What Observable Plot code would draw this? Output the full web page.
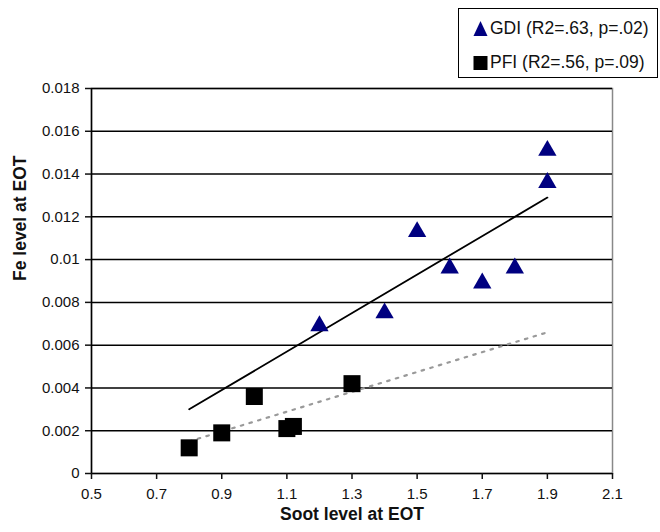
<!DOCTYPE html>
<html><head><meta charset="utf-8">
<script src="https://cdn.jsdelivr.net/npm/d3@7"></script>
<script src="https://cdn.jsdelivr.net/npm/@observablehq/plot@0.6"></script>
<style>
body{margin:0;background:#fff;font-family:"Liberation Sans",Arial,sans-serif;}
#wrap{position:relative;width:660px;height:532px;}
#legend{position:absolute;left:458px;top:8px;width:200px;height:70px;border:1.5px solid #000;box-sizing:border-box;background:#fff;font-size:17.5px;color:#111;}
.item{position:absolute;left:14px;display:flex;align-items:center;gap:2px;white-space:nowrap;}
</style>
</head><body>
<div id="wrap"><div id="chart"></div>
<div id="legend">
<div class="item" style="top:9px"><svg width="15" height="17"><path d="M7.5,1 L14.5,16 L0.5,16 Z" fill="#000080"/></svg><span>GDI (R2=.63, p=.02)</span></div>
<div class="item" style="top:43px"><svg width="15" height="16"><rect x="0.5" y="1" width="14" height="14" fill="#000"/></svg><span>PFI (R2=.56, p=.09)</span></div>
</div></div>
<script>
const gdiX = [1.2, 1.4, 1.5, 1.6, 1.7, 1.8, 1.9, 1.9];
const gdiY = [0.0069, 0.0075, 0.0113, 0.0096, 0.0089, 0.0096, 0.0136, 0.0151];
const pfiX = [0.8, 0.9, 1.0, 1.1, 1.12, 1.3];
const pfiY = [0.0012, 0.0019, 0.0036, 0.0021, 0.0022, 0.0042];
const gdiTrendX = [0.8, 1.9];
const gdiTrendY = [0.0030, 0.0129];
const pfiTrendX = [0.8, 1.9];
const pfiTrendY = [0.0015, 0.0066];
const xTicks = [0.5, 0.7, 0.9, 1.1, 1.3, 1.5, 1.7, 1.9, 2.1];
const yTicks = [0, 0.002, 0.004, 0.006, 0.008, 0.01, 0.012, 0.014, 0.016, 0.018];

const gdi = gdiX.map((x, i) => ({x, y: gdiY[i]}));
const pfi = pfiX.map((x, i) => ({x, y: pfiY[i]}));
const gT = gdiTrendX.map((x, i) => ({x, y: gdiTrendY[i]}));
const pT = pfiTrendX.map((x, i) => ({x, y: pfiTrendY[i]}));

const chart = Plot.plot({
  width: 660, height: 532,
  marginLeft: 91, marginRight: 48, marginTop: 88, marginBottom: 59,
  style: {fontFamily: "Liberation Sans, Arial, sans-serif", fontSize: "15px", color: "#111", background: "#fff"},
  x: {domain: [0.5, 2.1], label: null},
  y: {domain: [0, 0.018], label: null},
  marks: [
    Plot.frame({stroke: "#888", strokeWidth: 1.5}),
    Plot.gridY(yTicks.slice(1), {stroke: "#000", strokeOpacity: 1, strokeWidth: 1.5}),
    Plot.ruleX([0.5], {stroke: "#000", strokeWidth: 1.5}),
    Plot.ruleY([0], {stroke: "#000", strokeWidth: 1.5}),
    Plot.line(gT, {x: "x", y: "y", stroke: "#000", strokeWidth: 1.8}),
    Plot.line(pT, {x: "x", y: "y", stroke: "#999", strokeWidth: 2.2, strokeDasharray: "2.5,6.5"}),
    Plot.dot(gdi, {x: "x", y: "y", symbol: "triangle", r: 6.8, fill: "#000080", stroke: "none"}),
    Plot.dot(pfi, {x: "x", y: "y", symbol: "square", r: 9.6, fill: "#000", stroke: "none"}),
    Plot.axisX({ticks: xTicks, tickFormat: d => String(d), tickSize: 6, tickPadding: 9, label: null, fontSize: 15, strokeWidth: 1.5}),
    Plot.axisY({ticks: yTicks, tickFormat: d => String(+d.toFixed(3)), tickSize: 6, tickPadding: 6, label: null, fontSize: 15, strokeWidth: 1.5}),
    Plot.text(["Soot level at EOT"], {frameAnchor: "bottom", dy: 46, fontWeight: "bold", fontSize: 17.5}),
    Plot.text(["Fe level at EOT"], {frameAnchor: "left", dx: -71, rotate: -90, fontWeight: "bold", fontSize: 17.5})
  ]
});
document.getElementById("chart").appendChild(chart);
</script>
</body></html>
